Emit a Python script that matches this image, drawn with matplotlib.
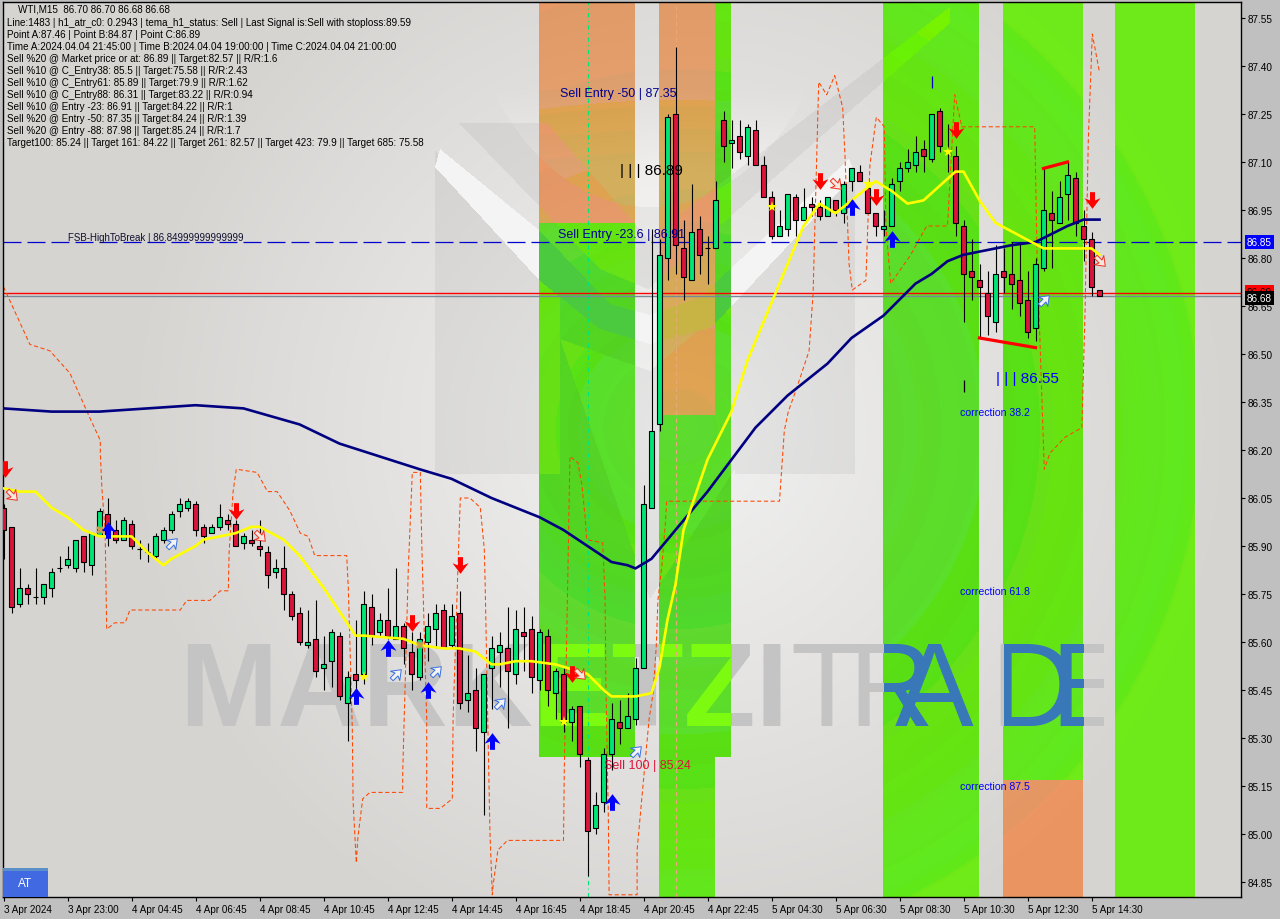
#!/usr/bin/env python
"""WTI M15 candlestick chart with signal overlays, drawn in the MT4 look."""

import matplotlib

matplotlib.use("Agg")

import matplotlib.pyplot as plt
import numpy as np
from matplotlib.patches import Rectangle
from matplotlib.path import Path
from matplotlib.transforms import Affine2D, Bbox, IdentityTransform

OPEN = [
    86.02, 85.96, 85.72, 85.77, 85.74, 85.74, 85.77, 85.83, 85.84, 85.83,
    85.93, 85.84, 85.93, 86.00, 85.95, 85.92, 85.97, 85.89, 85.88, 85.87,
    85.92, 85.95, 86.01, 86.02, 86.03, 85.96, 85.94, 85.96, 85.98, 85.97,
    85.91, 85.92, 85.90, 85.88, 85.82, 85.83, 85.75, 85.69, 85.59, 85.61,
    85.52, 85.54, 85.62, 85.41, 85.50, 85.50, 85.71, 85.63, 85.67, 85.61,
    85.65, 85.57, 85.49, 85.60, 85.64, 85.70, 85.59, 85.69, 85.42, 85.45,
    85.32, 85.52, 85.57, 85.58, 85.50, 85.63, 85.64, 85.48, 85.62, 85.44,
    85.50, 85.35, 85.40, 85.23, 85.02, 85.10, 85.25, 85.35, 85.33, 85.36,
    85.52, 86.02, 86.28, 86.80, 87.25, 86.83, 86.73, 86.89, 86.83, 86.83,
    87.23, 87.16, 87.18, 87.12, 87.20, 87.09, 86.99, 86.87, 86.89, 86.99,
    86.92, 86.97, 86.96, 86.93, 86.98, 86.94, 87.04, 87.07, 87.02, 86.94,
    86.89, 86.90, 87.04, 87.08, 87.09, 87.14, 87.11, 87.26, 87.13, 87.12,
    86.90, 86.76, 86.73, 86.69, 86.60, 86.76, 86.75, 86.73, 86.67, 86.58,
    86.77, 86.94, 86.91, 87.00, 87.05, 86.90, 86.86, 86.70,
]
HIGH = [
    86.03, 85.96, 85.83, 85.78, 85.83, 85.78, 85.83, 85.87, 85.90, 85.92,
    85.93, 85.94, 86.02, 86.05, 85.98, 85.99, 85.98, 85.92, 85.91, 85.94,
    85.96, 86.01, 86.05, 86.05, 86.04, 85.97, 85.97, 86.03, 86.00, 85.98,
    85.94, 85.95, 85.98, 85.90, 85.86, 85.90, 85.76, 85.71, 85.70, 85.73,
    85.62, 85.64, 85.63, 85.51, 85.67, 85.76, 85.75, 85.69, 85.77, 85.83,
    85.66, 85.63, 85.63, 85.69, 85.72, 85.72, 85.72, 85.76, 85.56, 85.52,
    85.50, 85.62, 85.63, 85.71, 85.70, 85.71, 85.68, 85.64, 85.64, 85.52,
    85.52, 85.40, 85.40, 85.24, 85.13, 85.27, 85.41, 85.42, 85.44, 85.55,
    86.09, 86.89, 86.86, 87.25, 87.46, 86.92, 87.03, 86.93, 86.87, 87.04,
    87.26, 87.23, 87.23, 87.22, 87.23, 87.12, 87.01, 86.95, 87.00, 87.00,
    87.02, 86.99, 86.98, 86.99, 86.98, 87.04, 87.08, 87.09, 87.02, 86.94,
    86.95, 87.05, 87.10, 87.14, 87.18, 87.17, 87.25, 87.27, 87.22, 87.15,
    86.92, 86.86, 86.78, 86.76, 86.84, 86.83, 86.85, 86.85, 86.76, 86.80,
    87.08, 87.01, 87.04, 87.10, 87.07, 86.95, 86.88, 86.70,
]
LOW = [
    85.86, 85.69, 85.71, 85.72, 85.72, 85.72, 85.74, 85.82, 85.83, 85.82,
    85.82, 85.81, 85.93, 85.90, 85.91, 85.92, 85.89, 85.86, 85.85, 85.86,
    85.91, 85.94, 85.99, 86.01, 85.93, 85.91, 85.94, 85.95, 85.95, 85.90,
    85.89, 85.90, 85.87, 85.77, 85.80, 85.70, 85.67, 85.59, 85.58, 85.49,
    85.45, 85.46, 85.42, 85.29, 85.41, 85.47, 85.59, 85.62, 85.61, 85.61,
    85.53, 85.45, 85.48, 85.54, 85.58, 85.58, 85.58, 85.39, 85.38, 85.26,
    85.06, 85.39, 85.46, 85.33, 85.47, 85.51, 85.44, 85.45, 85.40, 85.36,
    85.32, 85.29, 85.21, 84.87, 85.00, 85.07, 85.20, 85.28, 85.33, 85.34,
    85.52, 86.02, 86.26, 86.73, 86.75, 86.67, 86.73, 86.75, 86.72, 86.83,
    87.10, 87.08, 87.11, 87.09, 87.09, 86.99, 86.86, 86.87, 86.87, 86.87,
    86.92, 86.93, 86.92, 86.93, 86.93, 86.91, 87.01, 87.04, 86.94, 86.87,
    86.87, 86.90, 87.01, 87.07, 87.07, 87.07, 87.10, 87.13, 87.07, 86.87,
    86.60, 86.67, 86.55, 86.56, 86.57, 86.69, 86.64, 86.62, 86.55, 86.54,
    86.76, 86.77, 86.91, 86.92, 86.87, 86.79, 86.68, 86.68,
]
CLOSE = [
    85.95, 85.71, 85.77, 85.75, 85.74, 85.78, 85.82, 85.83, 85.86, 85.92,
    85.85, 85.94, 86.01, 85.93, 85.92, 85.98, 85.90, 85.89, 85.88, 85.93,
    85.95, 86.00, 86.03, 86.04, 85.95, 85.93, 85.96, 85.99, 85.97, 85.90,
    85.93, 85.91, 85.89, 85.81, 85.83, 85.75, 85.68, 85.60, 85.60, 85.51,
    85.53, 85.63, 85.43, 85.49, 85.48, 85.72, 85.62, 85.67, 85.62, 85.65,
    85.58, 85.50, 85.61, 85.65, 85.69, 85.58, 85.68, 85.41, 85.44, 85.33,
    85.50, 85.58, 85.59, 85.51, 85.64, 85.62, 85.49, 85.63, 85.45, 85.51,
    85.35, 85.39, 85.25, 85.01, 85.09, 85.25, 85.36, 85.33, 85.37, 85.52,
    86.03, 86.26, 86.81, 87.24, 86.84, 86.74, 86.88, 86.81, 86.83, 86.98,
    87.15, 87.17, 87.13, 87.21, 87.09, 86.99, 86.87, 86.90, 87.00, 86.92,
    86.96, 86.96, 86.93, 86.99, 86.95, 87.03, 87.08, 87.04, 86.94, 86.90,
    86.90, 87.03, 87.08, 87.10, 87.13, 87.12, 87.25, 87.15, 87.13, 86.91,
    86.75, 86.74, 86.71, 86.62, 86.75, 86.74, 86.72, 86.66, 86.57, 86.78,
    86.95, 86.92, 86.99, 87.06, 86.91, 86.86, 86.71, 86.68,
]

SLOW_MA_BARS = [
    0, 6, 12, 18, 24, 30, 37, 42, 47, 52, 56, 61, 64, 67, 70, 73, 76, 78, 79, 81, 83, 85, 88,
    91, 94, 98, 103, 106, 110, 114, 116, 118, 120, 122, 124, 126, 129, 133, 135, 137,
]
SLOW_MA = [
    86.33, 86.32, 86.32, 86.33, 86.34, 86.33, 86.28, 86.22, 86.18, 86.14, 86.11, 86.05, 86.02,
    85.99, 85.95, 85.90, 85.85, 85.84, 85.83, 85.86, 85.92, 85.98, 86.07, 86.17, 86.27, 86.37,
    86.47, 86.55, 86.62, 86.72, 86.75, 86.79, 86.81, 86.82, 86.83, 86.84, 86.85, 86.90, 86.92, 86.92,
]

FAST_MA_BARS = [
    0, 2, 4, 6, 8, 10, 12, 14, 16, 18, 20, 21, 24, 25, 29, 31, 32, 35, 37, 40,
    44, 45, 50, 52, 55, 57, 59, 61, 62, 64, 66, 69, 73, 75, 76, 79, 81, 82, 83, 84,
    85, 88, 91, 93, 95, 97, 100, 102, 104, 108, 109, 111, 113, 115, 119, 120, 122, 124,
    127, 130, 132, 136, 137,
]
FAST_MA = [
    86.08, 86.07, 86.07, 86.02, 85.99, 85.95, 85.93, 85.93, 85.93, 85.88, 85.84, 85.86,
    85.90, 85.92, 85.94, 85.96, 85.96, 85.92, 85.87, 85.77, 85.62, 85.62, 85.61, 85.59,
    85.58, 85.58, 85.57, 85.53, 85.53, 85.54, 85.54, 85.53, 85.50, 85.45, 85.43, 85.43,
    85.44, 85.52, 85.67, 85.78, 85.95, 86.17, 86.32, 86.48, 86.60, 86.72, 86.90, 86.97,
    86.94, 87.02, 87.04, 87.01, 86.97, 86.98, 87.07, 87.07, 86.98, 86.91, 86.87, 86.83,
    86.83, 86.83, 86.81,
]

ENVELOPE_BARS = [
    0, 3.3, 5.8, 8.3, 10.8, 12.1, 12.1, 12.3, 12.7, 12.9, 13.9, 15.2, 15.8, 22.1, 22.9,
    25.8, 27.1, 28.1, 28.2, 28.7, 29.1, 31.7, 33, 34.2, 35.8, 37.1, 38.1, 38.9, 40.4, 42.9,
    43.1, 43.6, 43.7, 44.1, 44.3, 44.9, 45.8, 49.9, 49.9, 50.6, 51.1, 52.1, 52.3, 52.9, 52.9,
    54.6, 56.1, 56.2, 56.8, 57.1, 58.3, 59.6, 60.1, 60.2, 60.6, 60.8, 61.1, 61.2, 61.8, 63,
    70, 70.1, 70.6, 70.8, 71.8, 72.3, 72.7, 72.9, 74.9, 75.2, 75.3, 75.6, 75.7, 79.2, 79.2,
    80.7, 81.2, 81.6, 81.8, 82.3, 82.7, 82.9, 97, 97.6, 98.1, 99.1, 100.7, 101.2, 101.4, 101.9,
    102.9, 103.9, 104.9, 105.2, 105.7, 106.1, 107.8, 108.3, 109.1, 110.1, 110.3, 110.9, 113.4,
    115.4, 118, 118.9, 119.8, 128.9, 129.2, 129.6, 129.8, 130.1, 130.8, 132.7, 134.8, 135.2,
    135.6, 136.1, 137,
]
ENVELOPE = [
    86.71, 86.53, 86.51, 86.44, 86.30, 86.23, 86.19, 86.08, 85.95, 85.64, 85.66, 85.66, 85.70,
    85.70, 85.73, 85.73, 85.76, 85.76, 85.88, 86.07, 86.14, 86.13, 86.07, 86.07, 86.01, 85.94,
    85.93, 85.87, 85.87, 85.87, 85.77, 85.33, 85.10, 84.91, 84.99, 85.11, 85.13, 85.13, 85.19,
    85.83, 86.13, 86.13, 85.89, 85.36, 85.08, 85.08, 85.11, 85.36, 85.83, 86.05, 86.05, 86.02,
    85.89, 85.79, 85.27, 85.01, 84.81, 84.84, 84.95, 84.98, 84.98, 85.20, 85.89, 86.18, 86.16,
    86.09, 85.99, 85.92, 85.91, 85.73, 85.47, 85.06, 84.81, 84.81, 84.95, 85.36, 85.44, 85.59,
    85.73, 85.84, 85.96, 86.04, 86.04, 86.26, 86.32, 86.39, 86.51, 86.69, 86.88, 87.35, 87.31,
    87.37, 87.27, 87.11, 86.78, 86.70, 86.73, 87.09, 87.24, 87.21, 86.90, 86.72, 86.81, 86.90,
    86.90, 87.31, 87.21, 87.21, 86.80, 86.51, 86.36, 86.14, 86.19, 86.24, 86.27, 86.64, 87.17,
    87.50, 87.38,
]

SELL_BARS = [0.2, 29, 51, 57, 71, 102, 109, 119, 136]
SELL_PRICES = [86.14, 86.01, 85.66, 85.84, 85.50, 87.04, 86.99, 87.20, 86.98]
BUY_BARS = [13, 44, 48, 53, 61, 76, 106, 111]
BUY_PRICES = [85.95, 85.43, 85.58, 85.45, 85.29, 85.10, 86.96, 86.86]
HOLLOW_UP_BARS = [21, 49, 54, 62, 79, 130]
HOLLOW_UP_PRICES = [85.91, 85.50, 85.51, 85.41, 85.26, 86.67]
HOLLOW_DOWN_BARS = [1, 32, 72, 104, 137]
HOLLOW_DOWN_PRICES = [86.06, 85.93, 85.50, 87.03, 86.79]
STAR_BARS = [45, 70, 96, 108, 118]
STAR_PRICES = [85.49, 85.35, 86.96, 87.03, 87.13]
CROSS_BARS = [12, 52]
CROSS_PRICES = [85.95, 85.59]

# bar range and price range of each shaded zone
GREEN_ZONES = [
    (67, 79, 86.91, 85.24),
    (82, 89, 86.31, 84.80),
    (89, 91, 87.60, 85.24),
    (110, 122, 87.60, 84.80),
    (125, 135, 87.60, 85.17),
    (139, 149, 87.60, 84.80),
]
ORANGE_ZONES = [
    (67, 79, 87.60, 86.91),
    (82, 89, 87.60, 86.31),
    (125, 135, 85.17, 84.80),
]

TICK_BARS = list(range(0, 137, 8))
TIME_LABELS = [
    "3 Apr 2024", "3 Apr 23:00", "4 Apr 04:45", "4 Apr 06:45", "4 Apr 08:45", "4 Apr 10:45",
    "4 Apr 12:45", "4 Apr 14:45", "4 Apr 16:45", "4 Apr 18:45", "4 Apr 20:45", "4 Apr 22:45",
    "5 Apr 04:30", "5 Apr 06:30", "5 Apr 08:30", "5 Apr 10:30", "5 Apr 12:30", "5 Apr 14:30",
]
PRICE_TICKS = [
    84.85, 85.00, 85.15, 85.30, 85.45, 85.60, 85.75, 85.90, 86.05, 86.20,
    86.35, 86.50, 86.65, 86.80, 86.95, 87.10, 87.25, 87.40, 87.55,
]

INFO_LINES = [
    "Line:1483 | h1_atr_c0: 0.2943 | tema_h1_status: Sell | Last Signal is:Sell with stoploss:89.59",
    "Point A:87.46 | Point B:84.87 | Point C:86.89",
    "Time A:2024.04.04 21:45:00 | Time B:2024.04.04 19:00:00 | Time C:2024.04.04 21:00:00",
    "Sell %20 @ Market price or at: 86.89 || Target:82.57 || R/R:1.6",
    "Sell %10 @ C_Entry38: 85.5 || Target:75.58 || R/R:2.43",
    "Sell %10 @ C_Entry61: 85.89 || Target:79.9 || R/R:1.62",
    "Sell %10 @ C_Entry88: 86.31 || Target:83.22 || R/R:0.94",
    "Sell %10 @ Entry -23: 86.91 || Target:84.22 || R/R:1",
    "Sell %20 @ Entry -50: 87.35 || Target:84.24 || R/R:1.39",
    "Sell %20 @ Entry -88: 87.98 || Target:85.24 || R/R:1.7",
    "Target100: 85.24 || Target 161: 84.22 || Target 261: 82.57 || Target 423: 79.9 || Target 685: 75.58",
]

WIDTH, HEIGHT = 1280, 920
AX_LEFT, AX_RIGHT, AX_TOP, AX_BOTTOM = 3, 1241, 3, 898
UI_FONT = "Liberation Sans"
GREEN_XOR = (0xB8, 0x3E, 0xCB)
ORANGE_XOR = (0x3C, 0x40, 0xB0)
WATERMARK_GREY = "#c4c4c4"


def polygon_mask(xx, yy, vertices):
    pts = np.column_stack([xx.ravel(), yy.ravel()])
    return Path(vertices).contains_points(pts).reshape(xx.shape)


def make_background(ax):
    """Soft grey gradient with the faint logo, zones XORed on top like MT4 does."""
    yy, xx = np.mgrid[AX_TOP:AX_BOTTOM, AX_LEFT:AX_RIGHT] + 0.5
    t = np.clip(np.hypot((xx - 680) / 560, (yy - 430) / 560), 0, 1)[..., None]
    img = np.array([242.0, 242.0, 242.0]) * (1 - t) + np.array([214.0, 212.0, 209.0]) * t

    lens = ((xx - 650) / 190) ** 2 + ((yy + 60) / 268) ** 2 < 1
    img[lens] += np.clip((yy[lens, None] - 90) / 8, 0, 10)

    dark = [
        [(435, 152), (560, 277), (560, 475), (435, 475)],
        [(459, 124), (547, 124), (648, 240), (950, 8), (950, 24), (648, 290), (600, 270)],
        [(735, 290), (855, 175), (855, 475), (735, 475)],
        [(560, 340), (650, 600), (735, 470), (735, 300), (650, 372)],
    ]
    for vertices in dark:
        img[polygon_mask(xx, yy, vertices)] *= 0.95
    stripe = [(440, 150), (540, 232), (610, 305), (650, 316), (700, 298), (849, 160), (855, 175),
              (712, 328), (650, 345), (600, 330), (540, 282), (435, 168)]
    img[polygon_mask(xx, yy, stripe)] = 244

    img = img.clip(0, 255).astype(np.uint8)
    for zones, color in ((GREEN_ZONES, GREEN_XOR), (ORANGE_ZONES, ORANGE_XOR)):
        for x0, x1, top, bottom in zones:
            (left, y_top), (right, y_bot) = ax.transData.transform([(x0, top), (x1, bottom)])
            r0 = max(int(round(HEIGHT - y_top)) - AX_TOP, 0)
            r1 = int(round(HEIGHT - y_bot)) - AX_TOP
            c0, c1 = int(left) - AX_LEFT, int(right) - AX_LEFT
            img[r0:r1, c0:c1] ^= np.array(color, dtype=np.uint8)
    return img


def add_watermark(ax):
    """Two-tone watermark: each word is redrawn once per zone so the colour flips at zone edges."""
    spans, last = [], AX_LEFT
    for start, stop in ((67, 79), (82, 91), (110, 122), (125, 135)):
        a = ax.transData.transform((start, 86))[0]
        b = ax.transData.transform((stop, 86))[0]
        spans.append((last, a, False))
        spans.append((a, b, True))
        last = b
    spans.append((last, 1104, False))

    glyphs = [("MARKETZI", 179, "bold", 85, "#7cfa0f")]
    glyphs += [(c, x, "normal", 85, "#3878b8") for c, x in
               (("T", 790), ("R", 848), ("A", 895), ("D", 990), ("E", 1050))]
    for x0, x1, in_zone in spans:
        clip = Bbox.from_extents(x0, HEIGHT - AX_BOTTOM, x1, HEIGHT - AX_TOP)
        for word, x, weight, size, zone_color in glyphs:
            t = ax.text(x, HEIGHT - 726, word, transform=IdentityTransform(), family=UI_FONT,
                        weight=weight, fontsize=size, color=zone_color if in_zone else WATERMARK_GREY,
                        va="baseline", ha="left", zorder=1, clip_on=True)
            t.set_clip_path(None)
            t.set_clip_box(clip)


def arrow_path():
    return Path(
        [(-0.15, 0.5), (0.15, 0.5), (0.15, 0.0), (0.48, 0.14), (0, -0.5), (-0.48, 0.14),
         (-0.15, 0.0), (-0.15, 0.5)],
        closed=True,
    )


def main() -> None:
    bars = np.arange(len(OPEN))
    opens, highs, lows, closes = map(np.array, (OPEN, HIGH, LOW, CLOSE))

    fig = plt.figure(figsize=(WIDTH / 100, HEIGHT / 100), dpi=100, facecolor="#c0c0c0")
    ax = fig.add_axes([
        AX_LEFT / WIDTH, (HEIGHT - AX_BOTTOM) / HEIGHT,
        (AX_RIGHT - AX_LEFT) / WIDTH, (AX_BOTTOM - AX_TOP) / HEIGHT,
    ])
    x_range = ((AX_LEFT - 3.5) / 8, (AX_RIGHT - 3.5) / 8)
    y_range = (87.6 - (AX_BOTTOM - AX_TOP) / 320, 87.6)
    ax.set_xlim(*x_range)
    ax.set_ylim(*y_range)

    ax.imshow(make_background(ax), extent=(*x_range, *y_range), origin="upper", aspect="auto",
              interpolation="nearest", zorder=0)
    ax.set_xlim(*x_range)
    ax.set_ylim(*y_range)
    add_watermark(ax)

    ax.axvline(73, color="#00e676", lw=0.8, ls=(0, (4, 3, 1, 3)), zorder=1.5)
    ax.axvline(84, color="#e8a878", lw=0.8, ls=(0, (4, 3)), zorder=1.5)
    ax.axhline(86.85, color="#0000cd", lw=0.9, ls=(0, (14.4, 4.8)), zorder=2)
    ax.axhline(86.68, color="#778899", lw=1.0, zorder=2)
    ax.axhline(86.69, color="#ff0000", lw=1.0, zorder=2)

    ax.plot(ENVELOPE_BARS, ENVELOPE, color="#ff4500", lw=0.75, ls=(0, (4, 2.5)), zorder=2.5)

    up = closes >= opens
    ax.vlines(bars, lows, highs, color="black", lw=0.8, zorder=3)
    ax.bar(bars[up], (closes - opens)[up], bottom=opens[up], width=0.55, color="#00e676",
           edgecolor="black", lw=0.8, zorder=3.5)
    ax.bar(bars[~up], (closes - opens)[~up], bottom=opens[~up], width=0.55, color="#dc143c",
           edgecolor="black", lw=0.8, zorder=3.5)

    ax.plot(SLOW_MA_BARS, SLOW_MA, color="#000080", lw=1.9, zorder=4)
    ax.plot(FAST_MA_BARS, FAST_MA, color="#ffff00", lw=1.9, zorder=4.2)

    ax.plot([122, 129], [86.55, 86.52], color="#ff0000", lw=2.3, zorder=4.3)
    ax.plot([130, 133], [87.08, 87.10], color="#ff0000", lw=2.3, zorder=4.3)
    ax.vlines([120], [86.38], [86.42], color="black", lw=0.9, zorder=4)
    ax.vlines([116], [87.33], [87.37], color="#0000cd", lw=0.9, zorder=4)

    down = arrow_path()
    up_arrow = down.transformed(Affine2D().scale(1, -1))
    ax.plot(SELL_BARS, SELL_PRICES, ls="", marker=down, ms=12, color="#ff0000", mew=0, zorder=5)
    ax.plot(BUY_BARS, BUY_PRICES, ls="", marker=up_arrow, ms=12, color="#0000ff", mew=0, zorder=5)
    ax.plot(HOLLOW_UP_BARS, HOLLOW_UP_PRICES, ls="", ms=9, mfc="#f4f4f4", mec="#3a6fe0", mew=0.7, zorder=5,
            marker=up_arrow.transformed(Affine2D().rotate_deg(-45)))
    ax.plot(HOLLOW_DOWN_BARS, HOLLOW_DOWN_PRICES, ls="", ms=9, mfc="#f4e8e0", mec="#f03020", mew=0.7, zorder=5,
            marker=down.transformed(Affine2D().rotate_deg(45)))
    ax.plot(STAR_BARS, STAR_PRICES, ls="", marker="*", ms=8, color="#ffff00", mew=0, zorder=5)
    ax.plot(CROSS_BARS, CROSS_PRICES, ls="", marker="X", ms=6, color="#c8a050", mew=0, zorder=5)

    ax.text(69.6, 87.315, "Sell Entry -50 | 87.35", color="#000090", fontsize=9, family=UI_FONT,
            va="center", zorder=6)
    ax.text(69.3, 86.875, "Sell Entry -23.6 | 86.91", color="#000090", fontsize=9, family=UI_FONT,
            va="center", zorder=6)
    ax.text(77, 87.075, "| | | 86.89", color="black", fontsize=11, family=UI_FONT, va="center", zorder=6)
    ax.text(124, 86.425, "| | | 86.55", color="#0000ff", fontsize=11, family=UI_FONT, va="center", zorder=6)
    ax.text(8.1, 86.865, "FSB-HighToBreak | 86.84999999999999", color="#101030", fontsize=7.0,
            family=UI_FONT, va="center", zorder=6)
    ax.text(75, 85.215, "Sell 100 | 85.24", color="#dc143c", fontsize=9, family=UI_FONT, va="center", zorder=6)
    for value, price in (("correction 38.2", 86.32), ("correction 61.8", 85.76), ("correction 87.5", 85.15)):
        ax.text(119.5, price, value, color="#0000ff", fontsize=7.6, family=UI_FONT, va="center", zorder=6)

    ax.set_xticks(TICK_BARS)
    ax.set_xticklabels(TIME_LABELS, family=UI_FONT, fontsize=7.1, ha="left")
    ax.set_yticks(PRICE_TICKS)
    ax.set_yticklabels([f"{p:.2f}" for p in PRICE_TICKS], family=UI_FONT, fontsize=7.2)
    ax.yaxis.tick_right()
    ax.tick_params(axis="x", length=3, width=0.8, pad=2, colors="black")
    ax.tick_params(axis="y", length=3, width=0.8, pad=1.5, colors="black")
    for spine in ax.spines.values():
        spine.set_color("black")
        spine.set_linewidth(1.0)

    text_kw = dict(transform=IdentityTransform(), family=UI_FONT, fontsize=7.1, va="center", zorder=7)
    ax.text(18, HEIGHT - 10, "WTI,M15  86.70 86.70 86.68 86.68", color="black", **text_kw)
    for row, line in enumerate(INFO_LINES):
        ax.text(7, HEIGHT - (23 + row * 12), line, color="black", **text_kw)

    ax.add_patch(Rectangle((AX_LEFT, HEIGHT - AX_BOTTOM), 45, 29, transform=IdentityTransform(),
                           facecolor="#4169e1", zorder=8, clip_on=False))
    ax.add_patch(Rectangle((AX_LEFT, HEIGHT - AX_BOTTOM + 26), 45, 3, transform=IdentityTransform(),
                           facecolor="#5b8fc8", zorder=8.1, clip_on=False))
    ax.text(25.5, HEIGHT - 884, "AT", color="white", transform=IdentityTransform(), family=UI_FONT,
            fontsize=8.5, ha="center", va="center", zorder=9)

    y_axis = ax.get_yaxis_transform()
    for price, value, face, text_color in (
        (86.85, "86.85", "#0000ff", "white"),
        (86.695, "86.69", "#ff0000", "black"),
        (86.675, "86.68", "#000000", "white"),
    ):
        ax.text(1.0048, price, value, transform=y_axis, color=text_color, family=UI_FONT, fontsize=7.2,
                va="center", ha="left", clip_on=False, zorder=9,
                bbox=dict(boxstyle="square,pad=0.18", facecolor=face, edgecolor="none"))

    fig.savefig("out.png", dpi=100, facecolor=fig.get_facecolor())
    plt.close(fig)


if __name__ == "__main__":
    main()
